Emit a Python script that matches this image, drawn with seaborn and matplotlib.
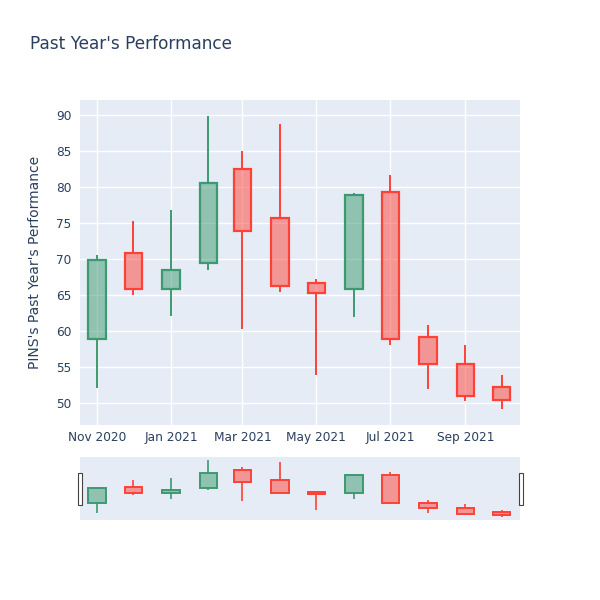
import matplotlib
matplotlib.use("Agg")
import matplotlib.pyplot as plt
import matplotlib.dates as mdates
from matplotlib.patches import Rectangle
import numpy as np
import pandas as pd
import seaborn as sns

# ---- data ----
dates = ["2020-11-01", "2020-12-01", "2021-01-01", "2021-02-01", "2021-03-01", "2021-04-01",
         "2021-05-01", "2021-06-01", "2021-07-01", "2021-08-01", "2021-09-01", "2021-10-01"]
open_ = [58.9, 70.8, 65.8, 69.4, 82.5, 75.7, 66.7, 65.8, 79.35, 59.2, 55.4, 52.2]
high = [70.5, 75.3, 76.8, 89.9, 85.0, 88.75, 67.2, 79.1, 81.6, 60.8, 58.0, 53.8]
low = [52.0, 65.0, 62.1, 68.5, 60.2, 65.4, 53.8, 61.9, 58.0, 51.85, 50.2, 49.1]
close = [69.9, 65.8, 68.4, 80.5, 73.9, 66.3, 65.2, 78.9, 58.8, 55.4, 50.9, 50.4]
title = "Past Year's Performance"
ylabel = "PINS's Past Year's Performance"
xtick_dates = ["2020-11-01", "2021-01-01", "2021-03-01", "2021-05-01", "2021-07-01", "2021-09-01"]
xtick_labels = ["Nov 2020", "Jan 2021", "Mar 2021", "May 2021", "Jul 2021", "Sep 2021"]
yticks = [50, 55, 60, 65, 70, 75, 80, 85, 90]

df = pd.DataFrame({"date": pd.to_datetime(dates), "open": open_, "high": high,
                   "low": low, "close": close})

sns.set_theme(style="darkgrid", rc={
    "axes.facecolor": "#E5ECF6", "grid.color": "white", "grid.linewidth": 1.0,
    "axes.edgecolor": "#E5ECF6", "text.color": "#2a3f5f", "axes.labelcolor": "#2a3f5f",
    "xtick.color": "#2a3f5f", "ytick.color": "#2a3f5f"})
plt.rcParams["font.family"] = ["DejaVu Sans"]

INC = "#3D9970"
DEC = "#FF4136"

fig = plt.figure(figsize=(6, 6), dpi=100)
ax = fig.add_axes([80/600, 1-425/600, 440/600, 325/600])
axs = fig.add_axes([80/600, 1-520/600, 440/600, 63/600])

x = mdates.date2num(df["date"])
width = 14.3


def draw(a, lw_body, lw_wick):
    for xi, o, h, l, c in zip(x, df["open"], df["high"], df["low"], df["close"]):
        col = INC if c >= o else DEC
        top, bot = max(o, c), min(o, c)
        a.vlines(xi, top, h, color=col, linewidth=lw_wick, zorder=3)
        a.vlines(xi, l, bot, color=col, linewidth=lw_wick, zorder=3)
        a.bar(xi, top - bot, bottom=bot, width=width, color=matplotlib.colors.to_rgba(col, 0.5),
              edgecolor=col, linewidth=lw_body, zorder=4)


draw(ax, 1.6, 1.4)
draw(axs, 1.4, 1.2)

xmin = mdates.date2num(pd.Timestamp("2020-10-18"))
xmax = mdates.date2num(pd.Timestamp("2021-10-16"))
ax.set_xlim(xmin, xmax)
axs.set_xlim(xmin, xmax)
ax.set_ylim(46.9, 92.1)
axs.set_ylim(46.7, 92.05)

ax.set_xticks(mdates.date2num(pd.to_datetime(xtick_dates)))
ax.set_xticklabels(xtick_labels, fontsize=8.7)
ax.set_yticks(yticks)
ax.set_yticklabels([str(v) for v in yticks], fontsize=8.7)
ax.tick_params(axis="both", length=0, pad=4)
ax.tick_params(axis="y", pad=6)
ax.set_ylabel(ylabel, fontsize=10, labelpad=10)
for s in ax.spines.values():
    s.set_visible(False)

axs.grid(False)
axs.set_xticks([])
axs.set_yticks([])
for s in axs.spines.values():
    s.set_visible(False)

# range slider handles
for hx in (77.5, 518.5):
    fig.patches.append(Rectangle((hx/600, 1-505/600), 4/600, 32/600, transform=fig.transFigure,
                                 facecolor="white", edgecolor="#444444", linewidth=0.8, zorder=10))

fig.text(30/600, 1-44/600, title, fontsize=12.2, color="#2a3f5f", va="center", ha="left")

fig.savefig("out.png", dpi=100, facecolor="white")
